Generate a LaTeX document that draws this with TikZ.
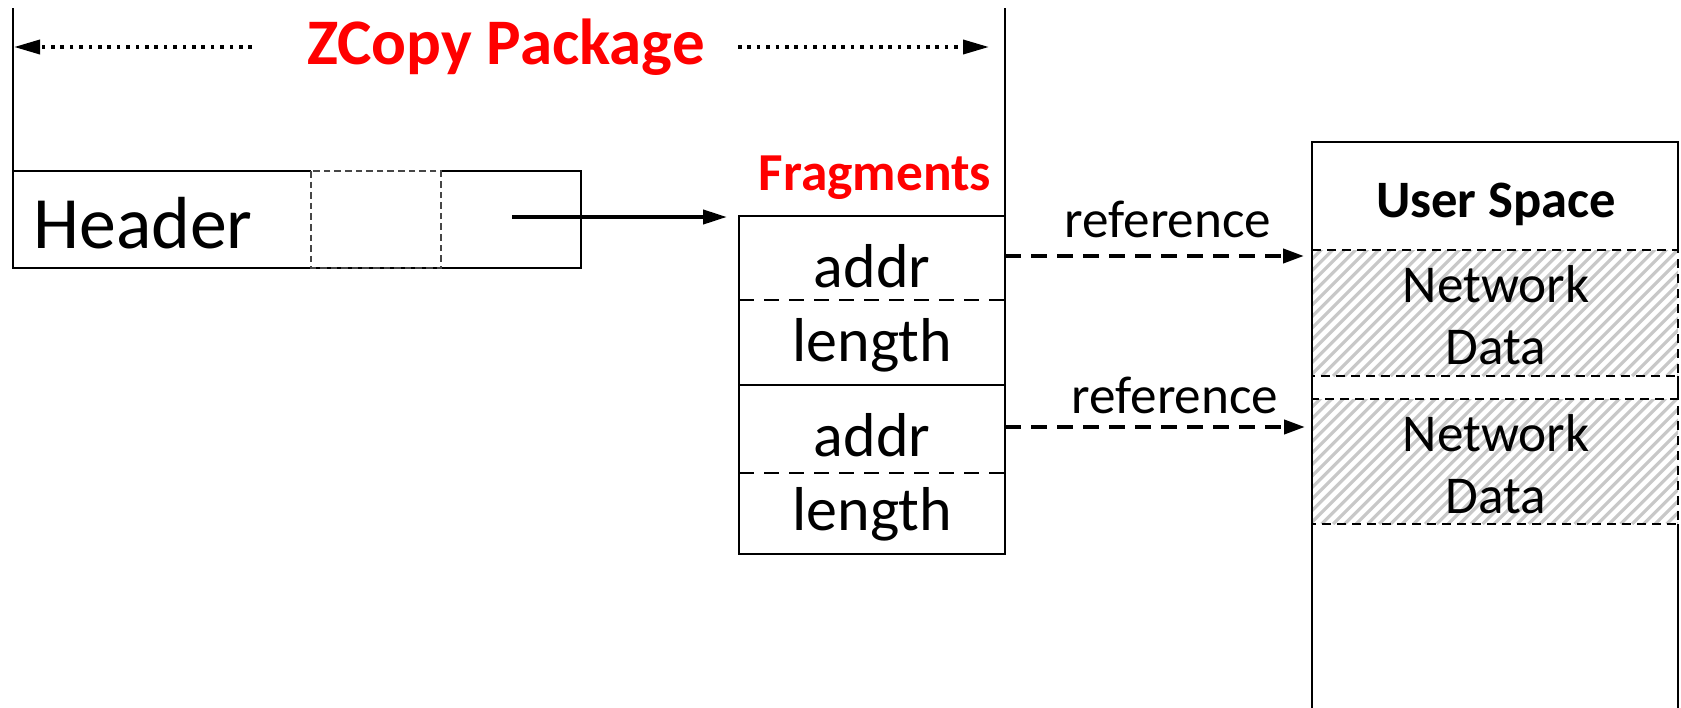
\documentclass[tikz,border=0pt]{standalone}
\usepackage{fontspec}
\setmainfont{Carlito}
\usetikzlibrary{arrows.meta}
\definecolor{pkgred}{RGB}{255,0,0}
\definecolor{hatchgray}{RGB}{200,200,200}
\definecolor{celldash}{RGB}{70,70,70}

\begin{document}
\begin{tikzpicture}[x=0.5pt,y=-0.5pt,
  frame/.style={draw=black,line width=1pt},
  bracket/.style={draw=black,line width=1.3pt},
  sep/.style={draw=black,line width=1pt,dash pattern=on 7.5pt off 5pt},
  thinsep/.style={draw=celldash,line width=0.85pt,dash pattern=on 3.3pt off 2pt},
  nddash/.style={draw=black,line width=0.9pt,dash pattern=on 4.5pt off 3pt},
  dotarrow/.style={line width=1.8pt,dash pattern=on 1.8pt off 2.9pt,
    -{Triangle[length=13pt,width=7pt]}},
  solidarrow/.style={line width=2pt,-{Triangle[length=12pt,width=7pt]}},
  refarrow/.style={line width=2pt,dash pattern=on 8pt off 5pt,
    -{Triangle[length=10.5pt,width=7pt]}},
  hatch/.style={draw=hatchgray,line width=1.6pt},
  box/.style={inner sep=0pt,outer sep=0pt,anchor=north west},
  bigtxt/.style={inner sep=0pt,font=\fontsize{36.9}{40}\selectfont},
  celltxt/.style={inner sep=0pt,anchor=base,font=\fontsize{31}{36}\selectfont},
  midtxt/.style={inner sep=0pt,anchor=base,font=\fontsize{26.6}{30}\selectfont},
  redtitle/.style={inner sep=0pt,anchor=base,text=pkgred,font=\bfseries\fontsize{32.5}{36}\selectfont},
  redlabel/.style={inner sep=0pt,anchor=base,text=pkgred,font=\bfseries\fontsize{26.7}{30}\selectfont},
  boldlabel/.style={inner sep=0pt,anchor=base,font=\bfseries\fontsize{26.3}{30}\selectfont}
]
\useasboundingbox (0,0) rectangle (1681,707);

% ---- package span ----
\coordinate (tl) at (13,8);
\coordinate (tr) at (1005,8);
\node[redtitle] (pkg) at (506,64) {ZCopy Package};
\coordinate (lfrom) at (252,47);
\coordinate (lto) at (14,47);
\coordinate (rfrom) at (738,47);
\coordinate (rto) at (989,47);
\draw[dotarrow] (lfrom) -- (lto);
\draw[dotarrow] (rfrom) -- (rto);

% ---- header ----
\node[box,minimum width=284pt,minimum height=48.5pt] (hdr) at (13,171) {};
\node[box,minimum width=65pt,minimum height=48.5pt] (cell) at (311,171) {};
\draw[frame] (cell.north west) -- (hdr.north west) -- (hdr.south west) -- (hdr.south east)
  -- (hdr.north east) -- (cell.north east);
\draw[thinsep] (cell.north west) rectangle (cell.south east);
\node[bigtxt,anchor=base west] (hdrtxt) at (33,248) {Header};
\draw[bracket] (tl) -- (hdr.north west);

% ---- fragments ----
\node[box,minimum width=133pt,minimum height=42pt] (f1) at (739,216) {};
\node[box,minimum width=133pt,minimum height=42.5pt] (f2) at (739,300) {};
\node[box,minimum width=133pt,minimum height=44pt] (f3) at (739,385) {};
\node[box,minimum width=133pt,minimum height=40.5pt] (f4) at (739,473) {};
\draw[frame] (f1.north west) rectangle (f4.south east);
\draw[frame] (f2.south west) -- (f2.south east);
\draw[sep] (f1.south west) -- (f1.south east);
\draw[sep] (f3.south west) -- (f3.south east);
\node[celltxt] (a1) at (872,287) {addr};
\node[celltxt] (l1) at (872,361) {length};
\node[celltxt] (a2) at (872,456) {addr};
\node[celltxt] (l2) at (872,530) {length};
\node[redlabel] (fraglbl) at (875,190) {Fragments};
\draw[bracket] (tr) -- (f1.north east);

\coordinate (hs) at (512,217);
\coordinate (he) at (727,217);
\draw[solidarrow] (hs) -- (he);

% ---- user space ----
\node[box,minimum width=183pt,minimum height=290pt] (us) at (1312,142) {};
\node[box,minimum width=183pt,minimum height=63pt] (nd1) at (1312,250) {};
\node[box,minimum width=183pt,minimum height=62.5pt] (nd2) at (1312,399) {};
\foreach \r in {nd1,nd2}{
  \begin{scope}
    \clip (\r.north west) rectangle (\r.south east);
    \foreach \k in {0,...,46}
      \draw[hatch] (\r.south west) ++(\k*11.5-140,0) -- ++(150,-150);
  \end{scope}
  \draw[nddash] (\r.north west) rectangle (\r.south east);
}
\draw[frame] (us.south west) -- (us.north west) -- (us.north east) -- (nd1.north east);
\draw[frame] (nd1.south east) -- (nd2.north east);
\draw[frame] (nd2.south east) -- (us.south east);
\node[boldlabel] (ustxt) at (1496,217) {User Space};
\node[midtxt] (n1) at (1496,302) {Network};
\node[midtxt] (d1) at (1496,364) {Data};
\node[midtxt] (n2) at (1496,451) {Network};
\node[midtxt] (d2) at (1496,513) {Data};

% ---- references ----
\coordinate (r1s) at (1005,256);
\coordinate (r1e) at (1304,256);
\coordinate (r2s) at (1005,427);
\coordinate (r2e) at (1305,427);
\draw[refarrow] (r1s) -- (r1e);
\draw[refarrow] (r2s) -- (r2e);
\node[midtxt] (ref1) at (1168,237) {reference};
\node[midtxt] (ref2) at (1175,413) {reference};
\end{tikzpicture}
\end{document}
